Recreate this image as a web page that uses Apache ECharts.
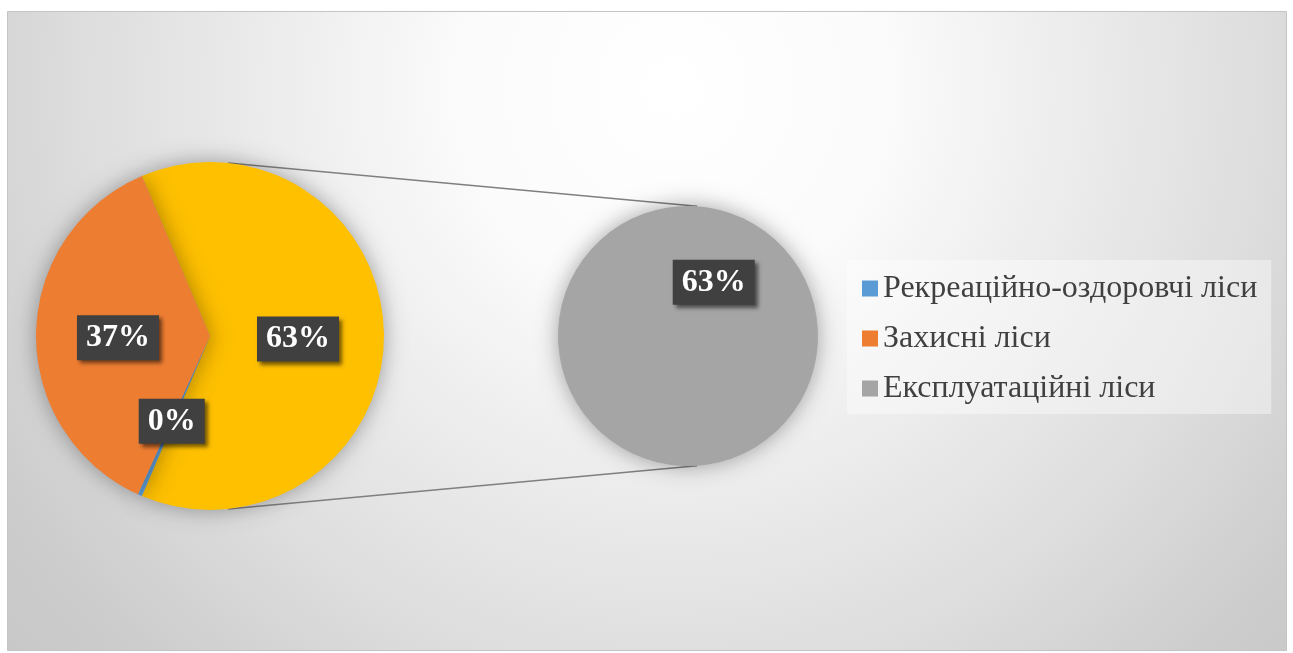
<!DOCTYPE html>
<html>
<head>
<meta charset="utf-8">
<script src="https://cdn.jsdelivr.net/npm/echarts@6/dist/echarts.min.js"></script>
<style>
  html, body { margin: 0; padding: 0; background: #ffffff; }
  #chart { width: 1293px; height: 653px; }
</style>
</head>
<body>
<div id="chart"></div>
<script>
// forest categories and their shares (%)
const categories = ['Рекреаційно-оздоровчі ліси', 'Захисні ліси', 'Експлуатаційні ліси'];
const shares = [0.4, 36.8, 62.8];
const colors = ['#5b9bd5', '#ed7d31', '#a5a5a5'];
// the last category goes to the secondary pie, shown as "other" slice in the first one
const otherName = 'Інші';
const otherColor = '#ffc000';

const total = shares.reduce((a, b) => a + b, 0);
const otherValue = shares[2];

const leftCenter = [210, 336];
const leftRadius = 174;
const rightCenter = [688, 336];
const rightRadius = 130;

const mychart = echarts.init(document.getElementById('chart'));

const makeLabel = (offset) => ({
	show: true,
	position: 'inside',
	offset: offset,
	formatter: function(params) {
		return Math.round(params.value / total * 100) + '%';
	},
	fontFamily: 'Liberation Serif',
	fontWeight: 'bold',
	fontSize: 32,
	color: '#ffffff',
	backgroundColor: '#404040',
	padding: [6, 9, 5, 9],
	lineHeight: 34,
	shadowColor: 'rgba(0,0,0,0.55)',
	shadowBlur: 4,
	shadowOffsetX: 3,
	shadowOffsetY: 3
});

const pieShadow = {
	shadowColor: 'rgba(0,0,0,0.35)',
	shadowBlur: 22
};

// connector line end points on the two circles
const pt = (c, r, deg) => [c[0] + r * Math.cos(deg * Math.PI / 180), c[1] - r * Math.sin(deg * Math.PI / 180)];
const lineStyle = { stroke: '#7f7f7f', lineWidth: 1.5 };
const topA = pt(leftCenter, leftRadius, 84), topB = pt(rightCenter, rightRadius, 86);
const botA = pt(leftCenter, leftRadius, -84), botB = pt(rightCenter, rightRadius, -86);

mychart.setOption({
	animation: false,
	graphic: [{
		type: 'rect',
		z: -10,
		silent: true,
		shape: { x: 7.5, y: 11.5, width: 1279, height: 639 },
		style: {
			fill: new echarts.graphic.RadialGradient(0.52, 0.12, 1.5, [
				{ offset: 0, color: '#ffffff' },
				{ offset: 0.22, color: '#fbfbfb' },
				{ offset: 0.42, color: '#ececec' },
				{ offset: 0.62, color: '#dddddd' },
				{ offset: 0.8, color: '#cdcdcd' },
				{ offset: 1, color: '#c3c3c3' }
			]),
			stroke: '#c4c4c4',
			lineWidth: 1
		}
	}, {
		type: 'line',
		silent: true,
		shape: { x1: topA[0], y1: topA[1], x2: topB[0], y2: topB[1] },
		style: lineStyle
	}, {
		type: 'line',
		silent: true,
		shape: { x1: botA[0], y1: botA[1], x2: botB[0], y2: botB[1] },
		style: lineStyle
	}],
	legend: {
		data: categories,
		orient: 'vertical',
		left: 847,
		top: 260,
		padding: [11, 14, 8, 15],
		itemWidth: 16,
		itemHeight: 16,
		itemGap: 15,
		icon: 'rect',
		backgroundColor: 'rgba(255,255,255,0.4)',
		textStyle: {
			fontFamily: 'Liberation Serif',
			fontSize: 32,
			color: '#404040',
			lineHeight: 35
		}
	},
	series: [{
		name: 'primary',
		type: 'pie',
		center: leftCenter,
		radius: leftRadius,
		startAngle: otherValue / total * 180,
		clockwise: true,
		avoidLabelOverlap: false,
		labelLine: { show: false },
		itemStyle: pieShadow,
		label: makeLabel([-2, 3]),
		data: [
			{ name: otherName, value: otherValue, itemStyle: { color: otherColor } },
			{ name: categories[0], value: shares[0], itemStyle: { color: colors[0] } },
			{ name: categories[1], value: shares[1], itemStyle: { color: colors[1] } }
		]
	}, {
		name: 'secondary',
		type: 'pie',
		center: rightCenter,
		radius: rightRadius,
		startAngle: 245,
		avoidLabelOverlap: false,
		labelLine: { show: false },
		itemStyle: pieShadow,
		label: makeLabel([-3, 8]),
		data: [
			{ name: categories[2], value: shares[2], itemStyle: { color: colors[2] } }
		]
	}]
});
</script>
</body>
</html>
